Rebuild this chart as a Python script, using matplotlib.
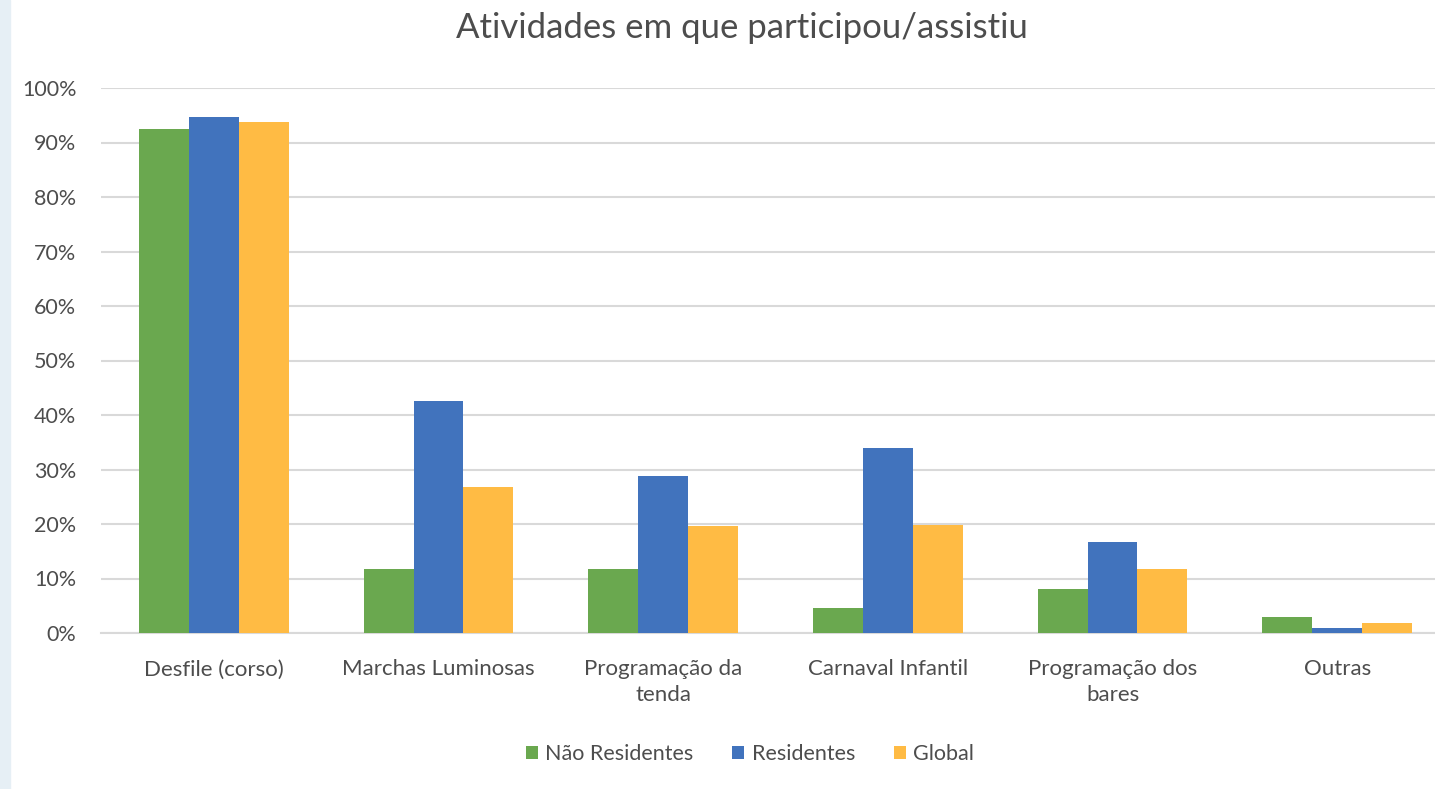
import matplotlib
matplotlib.use('Agg')
import matplotlib.pyplot as plt
from matplotlib.patches import Rectangle
from matplotlib.ticker import FuncFormatter
import numpy as np

plt.rcParams['font.family'] = ['Lato', 'DejaVu Sans']

# ── dados ──
categorias = ['Desfile (corso)', 'Marchas Luminosas', 'Programação da\ntenda',
              'Carnaval Infantil', 'Programação dos\nbares', 'Outras']
nao_residentes = [92.5, 11.7, 11.7, 4.6, 8.0, 2.9]
residentes = [94.6, 42.6, 28.8, 33.9, 16.7, 0.9]
global_ = [93.8, 26.7, 19.6, 19.8, 11.8, 1.8]
series = ['Não Residentes', 'Residentes', 'Global']
cores = ['#6aa84f', '#4173bd', '#ffbb44']

TXT = '#4d4d4d'

fig = plt.figure(figsize=(14.35, 7.89), dpi=100)
# faixa azul clara na margem esquerda
fig.patches.append(Rectangle((0, 0), 10 / 1435, 1, transform=fig.transFigure,
                             color='#e6eff5', zorder=0))

ax = fig.add_axes([101.5 / 1435, 1 - 633 / 789, 1348 / 1435, 545 / 789])

x = np.arange(len(categorias))
w = 0.222
for i, (vals, nome) in enumerate(zip([nao_residentes, residentes, global_], series)):
    ax.bar(x + (i - 1) * w, vals, w, color=cores[i], label=nome, zorder=3)

ax.set_xlim(-0.5, len(categorias) - 0.5)
ax.set_ylim(0, 100)
ax.set_yticks(np.arange(0, 101, 10))
ax.yaxis.set_major_formatter(FuncFormatter(lambda v, p: f'{v:.0f}%'))
ax.grid(axis='y', color='#d9d9d9', linewidth=1.5, zorder=0)
for s in ['top', 'right', 'left']:
    ax.spines[s].set_visible(False)
ax.spines['bottom'].set_color('#d9d9d9')
ax.spines['bottom'].set_linewidth(1.5)
ax.tick_params(length=0, colors=TXT)
ax.tick_params(axis='y', pad=18, labelsize=15.5)
ax.tick_params(axis='x', pad=19, labelsize=16)
ax.set_xticks(x)
ax.set_xticklabels(categorias, linespacing=1.35)

fig.text(742 / 1435, 1 - 28 / 789, 'Atividades em que participou/assistiu',
         ha='center', va='center', fontsize=25, color=TXT)

leg = fig.legend(loc='center', bbox_to_anchor=(750 / 1435, 1 - 754 / 789), ncol=3,
                 frameon=False, fontsize=15.5, handlelength=0.55, handleheight=0.55,
                 handletextpad=0.35, columnspacing=1.8)
for t in leg.get_texts():
    t.set_color(TXT)

fig.savefig('out.png', dpi=100, facecolor='white')
